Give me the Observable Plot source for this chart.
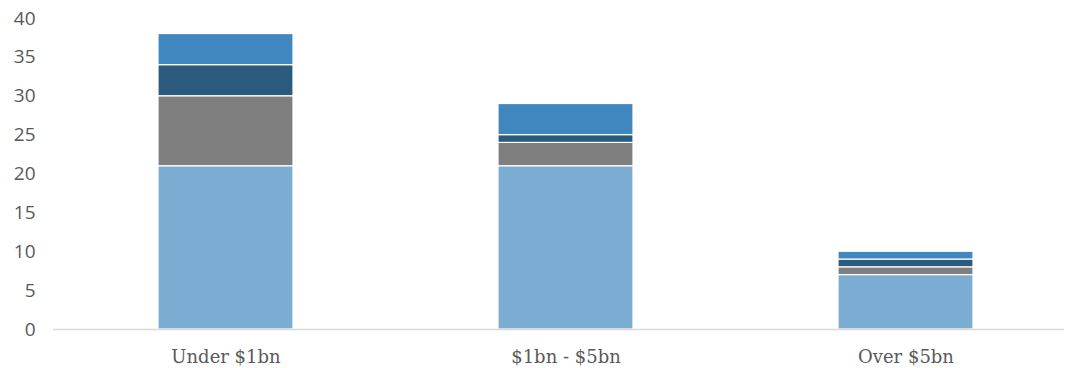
<!DOCTYPE html>
<html>
<head>
<meta charset="utf-8">
<script src="https://cdn.jsdelivr.net/npm/d3@7"></script>
<script src="https://cdn.jsdelivr.net/npm/@observablehq/plot@0.6"></script>
<style>
  html, body { margin: 0; padding: 0; background: #fff; }
  #chart svg { display: block; }
</style>
</head>
<body>
<div id="chart"></div>
<script>
const categories = ["Under $1bn", "$1bn - $5bn", "Over $5bn"];
const seriesNames = ["Series 1", "Series 2", "Series 3", "Series 4"];
const series1 = [21, 21, 7];
const series2 = [9, 3, 1];
const series3 = [4, 1, 1];
const series4 = [4, 4, 1];
const seriesColors = ["#7BADD3", "#7F7F7F", "#2A5A7E", "#4086BF"];
const yTicks = [0, 5, 10, 15, 20, 25, 30, 35, 40];

const allSeries = [series1, series2, series3, series4];
const data = [];
allSeries.forEach((vals, si) => {
  categories.forEach((c, ci) => {
    data.push({category: c, series: seriesNames[si], value: vals[ci]});
  });
});

const chart = Plot.plot({
  width: 1065,
  height: 368,
  marginLeft: 53,
  marginRight: 1,
  marginTop: 18,
  marginBottom: 39,
  style: {background: "#fff"},
  x: {
    domain: categories,
    paddingInner: 0.6035,
    paddingOuter: 0.286,
    align: 0.536,
    label: null
  },
  y: {domain: [0, 40], label: null},
  color: {domain: seriesNames, range: seriesColors},
  marks: [
    Plot.barY(data, Plot.stackY({
      x: "category",
      y: "value",
      fill: "series",
      order: seriesNames,
      stroke: "white",
      strokeWidth: 1.2
    })),
    Plot.ruleY([0], {stroke: "#D9D9D9", strokeWidth: 1.5}),
    Plot.axisY({
      ticks: yTicks,
      tickSize: 0,
      tickPadding: 18,
      fontSize: 19,
      fontFamily: "Open Sans",
      fill: "#595959",
      label: null
    }),
    Plot.axisX({
      tickSize: 0,
      tickPadding: 21,
      fontSize: 18,
      fontFamily: "DejaVu Serif",
      fill: "#595959",
      label: null
    })
  ]
});
document.getElementById("chart").appendChild(chart);
</script>
</body>
</html>
